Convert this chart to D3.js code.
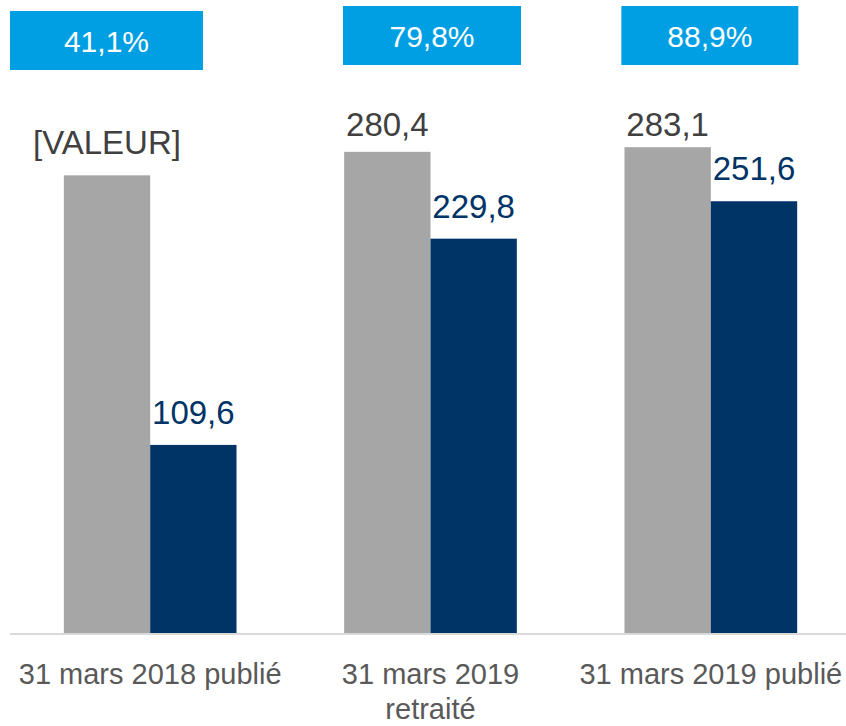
<!DOCTYPE html>
<html><head><meta charset="utf-8">
<script src="https://cdn.jsdelivr.net/npm/d3@7"></script>
<style>body{margin:0;background:#fff}svg{display:block}</style>
</head><body>
<svg id="c" width="846" height="726"></svg>
<script>
const categories = ["31 mars 2018 publié", "31 mars 2019 retraité", "31 mars 2019 publié"];
const categoryLines = [["31 mars 2018 publié"], ["31 mars 2019", "retraité"], ["31 mars 2019 publié"]];
const grayValues = [266.7, 280.4, 283.1];
const grayLabels = ["[VALEUR]", "280,4", "283,1"];
const navyValues = [109.6, 229.8, 251.6];
const navyLabels = ["109,6", "229,8", "251,6"];
const ratioLabels = ["41,1%", "79,8%", "88,9%"];

const svg = d3.select("#c");
const font = "'Liberation Sans', Arial, sans-serif";
const baseY = 633;
const y = d3.scaleLinear().domain([0, 300]).range([baseY, baseY - 300 * 1.716]);
const x = d3.scaleBand().domain(categories).range([10, 851]).paddingInner(0.384).paddingOuter(0.192);
const sub = d3.scaleBand().domain(["g", "n"]).range([0, x.bandwidth()]);

const series = [
  {key: "g", values: grayValues, labels: grayLabels, color: "#A6A6A6", text: "#404040"},
  {key: "n", values: navyValues, labels: navyLabels, color: "#003366", text: "#003366"}
];

// axis line
svg.append("line").attr("x1", 10).attr("x2", 846).attr("y1", baseY + 1).attr("y2", baseY + 1)
  .attr("stroke", "#D9D9D9").attr("stroke-width", 2);

series.forEach(s => {
  const g = svg.append("g");
  g.selectAll("rect").data(s.values).join("rect")
    .attr("x", (d, i) => x(categories[i]) + sub(s.key))
    .attr("width", sub.bandwidth())
    .attr("y", d => y(d))
    .attr("height", d => baseY - y(d))
    .attr("fill", s.color);
  g.selectAll("text").data(s.values).join("text")
    .attr("x", (d, i) => x(categories[i]) + sub(s.key) + sub.bandwidth() / 2)
    .attr("y", d => Math.max(y(d) - 21, 136))
    .attr("text-anchor", "middle")
    .attr("font-family", font).attr("font-size", 33)
    .attr("fill", s.text)
    .text((d, i) => s.labels[i]);
});

// ratio boxes (annotation layout)
const boxLayout = [{dx: -43.7, w: 193, top: 11}, {dx: 1.5, w: 178, top: 6}, {dx: -1, w: 177, top: 6}];
const bg = svg.append("g");
ratioLabels.forEach((t, i) => {
  const cx = x(categories[i]) + x.bandwidth() / 2 + boxLayout[i].dx;
  bg.append("rect").attr("x", cx - boxLayout[i].w / 2).attr("y", boxLayout[i].top)
    .attr("width", boxLayout[i].w).attr("height", 59).attr("fill", "#009FE3");
  bg.append("text").attr("x", cx).attr("y", boxLayout[i].top + 41)
    .attr("text-anchor", "middle").attr("font-family", font).attr("font-size", 30)
    .attr("fill", "#fff").text(t);
});

// category labels
const cg = svg.append("g");
categoryLines.forEach((lines, i) => {
  const cx = x(categories[i]) + x.bandwidth() / 2;
  lines.forEach((ln, j) => {
    cg.append("text").attr("x", cx).attr("y", 684 + j * 35)
      .attr("text-anchor", "middle").attr("font-family", font).attr("font-size", 29)
      .attr("fill", "#595959").text(ln);
  });
});
</script>
</body></html>
